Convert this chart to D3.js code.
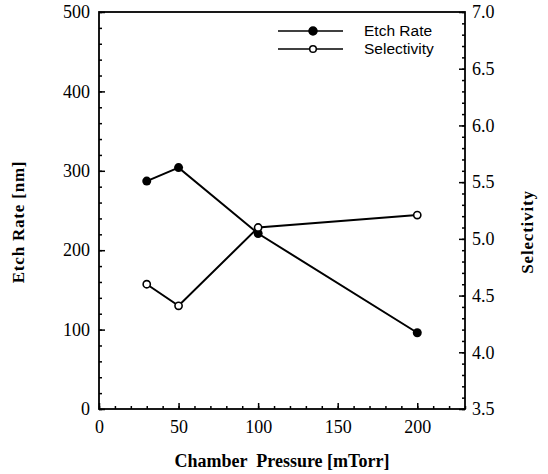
<!DOCTYPE html>
<html>
<head>
<meta charset="utf-8">
<script src="https://cdn.jsdelivr.net/npm/d3@7"></script>
<style>
  body { margin: 0; background: #fff; }
  .tick text { font-family: "Liberation Serif", serif; font-size: 18px; fill: #000; }
  .axis-title { font-family: "Liberation Serif", serif; font-weight: bold; fill: #000; }
  .legend text { font-family: "Liberation Sans", sans-serif; font-size: 15.5px; fill: #000; }
</style>
</head>
<body>
<div id="chart"></div>
<script>
// chamber pressure values (mTorr)
const pressure = [30, 50, 100, 200];
const etchRate = [287, 304, 221, 96];
const selectivity = [4.6, 4.41, 5.1, 5.21];

const xTicks = [0, 50, 100, 150, 200];
const leftTicks = [0, 100, 200, 300, 400, 500];
const rightTicks = [3.5, 4.0, 4.5, 5.0, 5.5, 6.0, 6.5, 7.0];

const width = 548, height = 474;
const margin = {top: 12, right: 83, bottom: 65, left: 99};

const svg = d3.select("#chart").append("svg")
    .attr("width", width)
    .attr("height", height);

const x = d3.scaleLinear().domain([0, 230]).range([margin.left, width - margin.right]);
const yLeft = d3.scaleLinear().domain([0, 500]).range([height - margin.bottom, margin.top]);
const yRight = d3.scaleLinear().domain([3.5, 7]).range([height - margin.bottom, margin.top]);

const bottom = height - margin.bottom;
const right = width - margin.right;

// minor ticks first
svg.append("g")
    .attr("transform", `translate(0,${bottom})`)
    .call(d3.axisBottom(x).tickValues(d3.range(0, 231, 10)).tickSize(-3).tickFormat(""))
    .call(g => g.select(".domain").remove());
svg.append("g")
    .attr("transform", `translate(${margin.left},0)`)
    .call(d3.axisLeft(yLeft).tickValues(d3.range(0, 501, 20)).tickSize(-3).tickFormat(""))
    .call(g => g.select(".domain").remove());
svg.append("g")
    .attr("transform", `translate(${right},0)`)
    .call(d3.axisRight(yRight).tickValues(d3.range(35, 71, 1).map(d => d / 10)).tickSize(-3).tickFormat(""))
    .call(g => g.select(".domain").remove());

// major ticks + labels
svg.append("g")
    .attr("transform", `translate(0,${bottom})`)
    .call(d3.axisBottom(x).tickValues(xTicks).tickSize(-6).tickPadding(11))
    .call(g => g.select(".domain").remove());
svg.append("g")
    .attr("transform", `translate(${margin.left},0)`)
    .call(d3.axisLeft(yLeft).tickValues(leftTicks).tickSize(-6).tickPadding(9))
    .call(g => g.select(".domain").remove());
svg.append("g")
    .attr("transform", `translate(${right},0)`)
    .call(d3.axisRight(yRight).tickValues(rightTicks).tickSize(-6).tickPadding(7).tickFormat(d3.format(".1f")))
    .call(g => g.select(".domain").remove());

svg.selectAll(".tick line").attr("stroke", "#000").attr("stroke-width", 1.5);

// frame
svg.append("rect")
    .attr("x", margin.left)
    .attr("y", margin.top)
    .attr("width", right - margin.left)
    .attr("height", bottom - margin.top)
    .attr("fill", "none")
    .attr("stroke", "#000")
    .attr("stroke-width", 1.8);

// series
const etchData = pressure.map((p, i) => ({p, v: etchRate[i]}));
const selData = pressure.map((p, i) => ({p, v: selectivity[i]}));

svg.append("path")
    .datum(etchData)
    .attr("fill", "none")
    .attr("stroke", "#000")
    .attr("stroke-width", 2)
    .attr("d", d3.line().x(d => x(d.p)).y(d => yLeft(d.v)));

svg.append("path")
    .datum(selData)
    .attr("fill", "none")
    .attr("stroke", "#000")
    .attr("stroke-width", 2)
    .attr("d", d3.line().x(d => x(d.p)).y(d => yRight(d.v)));

svg.selectAll(".etch-pt")
    .data(etchData)
    .enter().append("circle")
    .attr("cx", d => x(d.p))
    .attr("cy", d => yLeft(d.v))
    .attr("r", 4.5)
    .attr("fill", "#000");

svg.selectAll(".sel-pt")
    .data(selData)
    .enter().append("circle")
    .attr("cx", d => x(d.p))
    .attr("cy", d => yRight(d.v))
    .attr("r", 3.6)
    .attr("fill", "#fff")
    .attr("stroke", "#000")
    .attr("stroke-width", 1.6);

// legend
const legend = svg.append("g").attr("class", "legend");
const legendItems = [
    {name: "Etch Rate", filled: true, y: 31},
    {name: "Selectivity", filled: false, y: 49}
];
legendItems.forEach(item => {
    legend.append("line")
        .attr("x1", 278).attr("x2", 343)
        .attr("y1", item.y).attr("y2", item.y)
        .attr("stroke", "#000").attr("stroke-width", 1.6);
    legend.append("circle")
        .attr("cx", 313).attr("cy", item.y)
        .attr("r", item.filled ? 4 : 3.3)
        .attr("fill", item.filled ? "#000" : "#fff")
        .attr("stroke", "#000").attr("stroke-width", 1.5);
    legend.append("text")
        .attr("x", 364).attr("y", item.y + 5)
        .text(item.name);
});

// axis titles
svg.append("text")
    .attr("class", "axis-title")
    .attr("x", 282).attr("y", 467)
    .attr("text-anchor", "middle")
    .style("font-size", "18px")
    .style("white-space", "pre")
    .text("Chamber  Pressure [mTorr]");

svg.append("text")
    .attr("class", "axis-title")
    .attr("transform", "translate(24,222) rotate(-90)")
    .attr("text-anchor", "middle")
    .style("font-size", "17px")
    .style("letter-spacing", "0.8px")
    .text("Etch Rate [nm]");

svg.append("text")
    .attr("class", "axis-title")
    .attr("transform", "translate(533,232) rotate(-90)")
    .attr("text-anchor", "middle")
    .style("font-size", "17px")
    .style("letter-spacing", "0.8px")
    .text("Selectivity");
</script>
</body>
</html>
